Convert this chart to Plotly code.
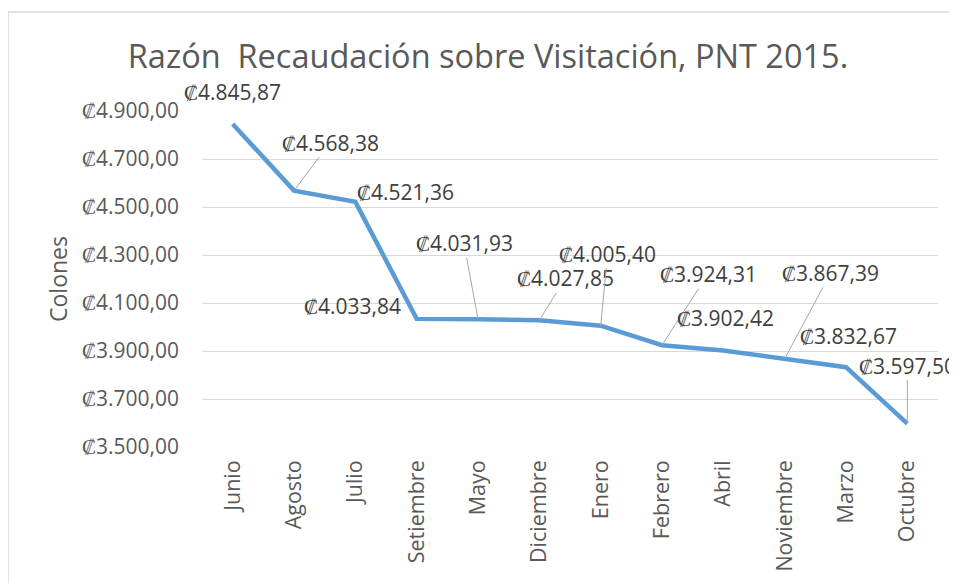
import plotly.graph_objects as go

months = ["Junio", "Agosto", "Julio", "Setiembre", "Mayo", "Diciembre",
          "Enero", "Febrero", "Abril", "Noviembre", "Marzo", "Octubre"]
ratio = [4845.87, 4568.38, 4521.36, 4033.84, 4031.93, 4027.85,
         4005.40, 3924.31, 3902.42, 3867.39, 3832.67, 3597.50]
y_tickvals = [3500, 3700, 3900, 4100, 4300, 4500, 4700, 4900]
y_ticktext = ["₡3.500,00", "₡3.700,00", "₡3.900,00", "₡4.100,00",
              "₡4.300,00", "₡4.500,00", "₡4.700,00", "₡4.900,00"]

# label offsets (pixels) and whether a leader line is drawn
label_dx = [0, 36, 50, -64, -14, 26, 7, 46, 2, 46, 2, 0]
label_dy = [-32, -48, -10, -13, -76, -42, -72, -71, -32, -86, -31, -58]
leader = [False, True, False, False, True, True, True, True, False, True, False, True]


def fmt(v):
    s = f"{v:,.2f}"
    s = s.replace(",", "X").replace(".", ",").replace("X", ".")
    return "₡" + s


FONT = "Open Sans"
GREY = "#595959"

L, R, T, B = 194, 27, 103, 144
W, H = 957, 583
PW, PH = W - L - R, H - T - B

fig = go.Figure()
fig.add_trace(go.Scatter(
    x=months, y=ratio, mode="lines",
    line=dict(color="#5B9BD5", width=4.5),
    hoverinfo="skip", cliponaxis=False,
))

for m, v, dx, dy, ld in zip(months, ratio, label_dx, label_dy, leader):
    fig.add_annotation(
        x=m, y=v, xref="x", yref="y", text=fmt(v),
        showarrow=True, ax=dx, ay=dy, axref="pixel", ayref="pixel",
        arrowhead=0, arrowwidth=1,
        arrowcolor="#A6A6A6" if ld else "rgba(0,0,0,0)",
        font=dict(family=FONT, size=21, color="#404040"),
        standoff=0, startstandoff=0, borderpad=0,
    )

fig.add_shape(type="rect", xref="paper", yref="paper",
              x0=-L / PW, x1=1 + (R + 40) / PW,
              y0=-(B + 40) / PH, y1=1 + (T - 4) / PH,
              line=dict(color="#D9D9D9", width=1.5), layer="below")

fig.update_layout(
    width=W, height=H, autosize=False,
    margin=dict(l=L, r=R, t=T, b=B),
    paper_bgcolor="white", plot_bgcolor="white",
    showlegend=False,
    title=dict(text="Razón  Recaudación sobre Visitación, PNT 2015.",
               x=480 / W, xanchor="center", y=1 - 49 / H, yanchor="middle",
               font=dict(family=FONT, size=32.5, color=GREY)),
    xaxis=dict(
        type="category", showgrid=False, zeroline=False, showline=False,
        ticks="", tickangle=-90, ticklabelstandoff=8,
        tickfont=dict(family=FONT, size=21.5, color=GREY),
        range=[-0.5, 11.5],
    ),
    yaxis=dict(
        range=[3500, 4900], tickvals=y_tickvals, ticktext=y_ticktext,
        showgrid=True, gridcolor="#D9D9D9", gridwidth=1.3, zeroline=False,
        showline=False, ticks="", ticklabelstandoff=22,
        tickfont=dict(family=FONT, size=21, color=GREY),
        title=dict(text="Colones", standoff=7,
                   font=dict(family=FONT, size=23, color=GREY)),
    ),
)

fig.write_html("out.html")
